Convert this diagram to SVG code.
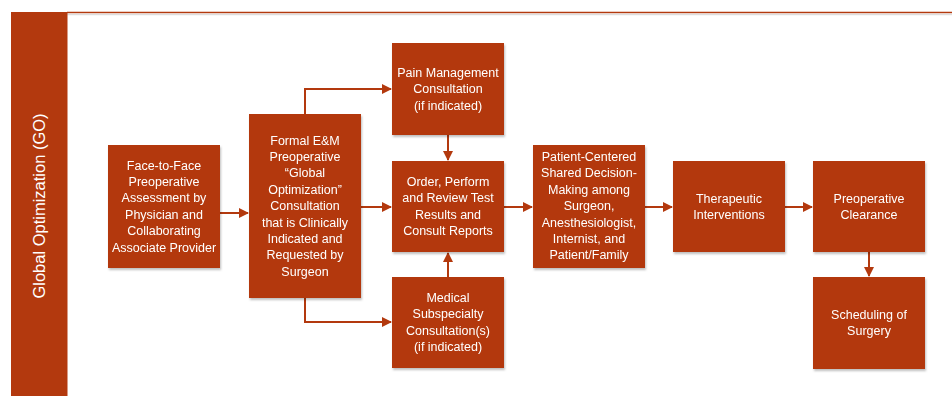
<svg xmlns="http://www.w3.org/2000/svg" width="952" height="396" viewBox="0 0 952 396">
<defs>
<style>
.box{fill:#B3390E;}
.shadow{fill:#000;opacity:0.12;}
.t{fill:#fff;font-family:"Liberation Sans",Arial,sans-serif;font-size:12.5px;text-anchor:middle;}
.c{fill:none;stroke:#B3390E;stroke-width:2;}
</style>
<marker id="ah" markerWidth="10" markerHeight="10" refX="9" refY="5" orient="auto" markerUnits="userSpaceOnUse">
<path d="M0,0 L10,5 L0,10 Z" fill="#B3390E"/>
</marker>
<filter id="sh" x="-10%" y="-10%" width="130%" height="130%">
<feDropShadow dx="1" dy="2" stdDeviation="1.2" flood-color="#000" flood-opacity="0.25"/>
</filter>
</defs>
<rect width="952" height="396" fill="#fff"/>
<g id="frame">
<line x1="67" y1="12.5" x2="952" y2="12.5" stroke="#B3390E" stroke-width="1.5"/>
<line x1="67" y1="14.5" x2="952" y2="14.5" stroke="#ddd" stroke-width="1.5"/>
<rect x="11" y="12" width="56.5" height="384" fill="#B3390E"/>
<text transform="translate(45,206) rotate(-90)" fill="#fff" font-family="'Liberation Sans',Arial,sans-serif" font-size="16.5" text-anchor="middle">Global Optimization (GO)</text>
</g>
<g id="connectors">
<line class="c" x1="220" y1="213" x2="248" y2="213" marker-end="url(#ah)"/>
<line class="c" x1="361" y1="207" x2="391" y2="207" marker-end="url(#ah)"/>
<polyline class="c" points="305,114 305,89 391,89" marker-end="url(#ah)"/>
<polyline class="c" points="305,298 305,322 391,322" marker-end="url(#ah)"/>
<line class="c" x1="448" y1="135" x2="448" y2="160" marker-end="url(#ah)"/>
<line class="c" x1="448" y1="277" x2="448" y2="253" marker-end="url(#ah)"/>
<line class="c" x1="504" y1="207" x2="532" y2="207" marker-end="url(#ah)"/>
<line class="c" x1="645" y1="207" x2="672" y2="207" marker-end="url(#ah)"/>
<line class="c" x1="785" y1="207" x2="812" y2="207" marker-end="url(#ah)"/>
<line class="c" x1="869" y1="252" x2="869" y2="276" marker-end="url(#ah)"/>
</g>
<g id="face" filter="url(#sh)">
<rect class="box" x="108" y="145" width="112" height="123"/>
<text class="t" x="164" y="169.5"><tspan x="164">Face-to-Face</tspan><tspan x="164" dy="16.4">Preoperative</tspan><tspan x="164" dy="16.4">Assessment by</tspan><tspan x="164" dy="16.4">Physician and</tspan><tspan x="164" dy="16.4">Collaborating</tspan><tspan x="164" dy="16.4">Associate Provider</tspan></text>
</g>
<g id="formal" filter="url(#sh)">
<rect class="box" x="249" y="114" width="112" height="184"/>
<text class="t" x="305" y="144.5"><tspan x="305">Formal E&amp;M</tspan><tspan x="305" dy="16.4">Preoperative</tspan><tspan x="305" dy="16.4">“Global</tspan><tspan x="305" dy="16.4">Optimization”</tspan><tspan x="305" dy="16.4">Consultation</tspan><tspan x="305" dy="16.4">that is Clinically</tspan><tspan x="305" dy="16.4">Indicated and</tspan><tspan x="305" dy="16.4">Requested by</tspan><tspan x="305" dy="16.4">Surgeon</tspan></text>
</g>
<g id="pain" filter="url(#sh)">
<rect class="box" x="392" y="43" width="112" height="92"/>
<text class="t" x="448" y="77"><tspan x="448">Pain Management</tspan><tspan x="448" dy="16.4">Consultation</tspan><tspan x="448" dy="16.4">(if indicated)</tspan></text>
</g>
<g id="order" filter="url(#sh)">
<rect class="box" x="392" y="161" width="112" height="91"/>
<text class="t" x="448" y="186"><tspan x="448">Order, Perform</tspan><tspan x="448" dy="16.4">and Review Test</tspan><tspan x="448" dy="16.4">Results and</tspan><tspan x="448" dy="16.4">Consult Reports</tspan></text>
</g>
<g id="medical" filter="url(#sh)">
<rect class="box" x="392" y="277" width="112" height="91"/>
<text class="t" x="448" y="302"><tspan x="448">Medical</tspan><tspan x="448" dy="16.4">Subspecialty</tspan><tspan x="448" dy="16.4">Consultation(s)</tspan><tspan x="448" dy="16.4">(if indicated)</tspan></text>
</g>
<g id="patient" filter="url(#sh)">
<rect class="box" x="533" y="145" width="112" height="123"/>
<text class="t" x="589" y="161"><tspan x="589">Patient-Centered</tspan><tspan x="589" dy="16.4">Shared Decision-</tspan><tspan x="589" dy="16.4">Making among</tspan><tspan x="589" dy="16.4">Surgeon,</tspan><tspan x="589" dy="16.4">Anesthesiologist,</tspan><tspan x="589" dy="16.4">Internist, and</tspan><tspan x="589" dy="16.4">Patient/Family</tspan></text>
</g>
<g id="therapeutic" filter="url(#sh)">
<rect class="box" x="673" y="161" width="112" height="91"/>
<text class="t" x="729" y="202.7"><tspan x="729">Therapeutic</tspan><tspan x="729" dy="16.4">Interventions</tspan></text>
</g>
<g id="clearance" filter="url(#sh)">
<rect class="box" x="813" y="161" width="112" height="91"/>
<text class="t" x="869" y="202.7"><tspan x="869">Preoperative</tspan><tspan x="869" dy="16.4">Clearance</tspan></text>
</g>
<g id="scheduling" filter="url(#sh)">
<rect class="box" x="813" y="277" width="112" height="92"/>
<text class="t" x="869" y="318.5"><tspan x="869">Scheduling of</tspan><tspan x="869" dy="16.4">Surgery</tspan></text>
</g>
</svg>
